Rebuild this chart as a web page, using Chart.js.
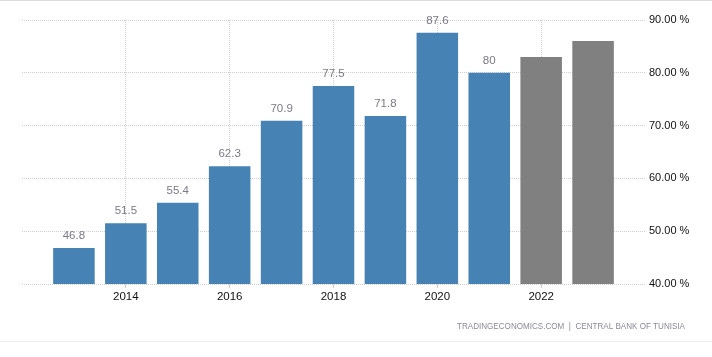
<!DOCTYPE html>
<html>
<head>
<meta charset="utf-8">
<script src="https://cdn.jsdelivr.net/npm/chart.js@4/dist/chart.umd.min.js"></script>
<style>
  html, body { margin: 0; padding: 0; background: #fff; }
  #wrap { width: 712px; height: 357px; position: relative; }
</style>
</head>
<body>
<div id="wrap"><canvas id="c" width="712" height="357"></canvas></div>
<script>
// ---- data ----
const years = [2013, 2014, 2015, 2016, 2017, 2018, 2019, 2020, 2021];
const values = [46.8, 51.5, 55.4, 62.3, 70.9, 77.5, 71.8, 87.6, 80];
const forecastYears = [2022, 2023];
const forecastValues = [83.0, 86.0];
const xTickLabels = ['2014', '2016', '2018', '2020', '2022'];
const yTickValues = [40, 50, 60, 70, 80, 90];
const sourceText = 'TRADINGECONOMICS.COM  |  CENTRAL BANK OF TUNISIA';

const FONT = '"Liberation Sans", Arial, sans-serif';

const labelPlugin = {
  id: 'valueLabels',
  afterDatasetsDraw(chart) {
    const ctx = chart.ctx;
    const meta = chart.getDatasetMeta(0);
    ctx.save();
    ctx.font = '11.5px ' + FONT;
    ctx.fillStyle = '#7a7a88';
    ctx.textAlign = 'center';
    ctx.textBaseline = 'middle';
    meta.data.forEach((el, i) => {
      ctx.fillText(String(values[i]), el.x, el.y - 12);
    });
    ctx.restore();
  }
};

const framePlugin = {
  id: 'frame',
  beforeDraw(chart) {
    const ctx = chart.ctx;
    ctx.save();
    ctx.fillStyle = '#fff';
    ctx.fillRect(0, 0, chart.width, chart.height);
    ctx.fillStyle = '#dcdcdc';
    ctx.fillRect(0, 0, chart.width, 1);
    ctx.fillStyle = '#eeeeee';
    ctx.fillRect(0, 341, chart.width, 1);
    ctx.restore();
  },
  afterDraw(chart) {
    const ctx = chart.ctx;
    ctx.save();
    ctx.font = '9.5px ' + FONT;
    ctx.fillStyle = '#8a8a9a';
    ctx.textAlign = 'right';
    ctx.textBaseline = 'middle';
    ctx.fillText(sourceText, 685, 326, 228);
    ctx.restore();
  }
};

new Chart(document.getElementById('c'), {
  type: 'bar',
  data: {
    datasets: [
      {
        data: years.map((y, i) => ({ x: y, y: values[i] })),
        backgroundColor: '#4682b4',
        grouped: false,
        categoryPercentage: 1,
        barPercentage: 0.8
      },
      {
        data: forecastYears.map((y, i) => ({ x: y, y: forecastValues[i] })),
        backgroundColor: '#808080',
        grouped: false,
        categoryPercentage: 1,
        barPercentage: 0.8
      }
    ]
  },
  options: {
    responsive: false,
    animation: false,
    layout: { padding: { left: 22, top: 20, right: 0, bottom: 43 } },
    plugins: { legend: { display: false }, tooltip: { enabled: false } },
    scales: {
      x: {
        type: 'linear',
        min: 2012,
        max: 2024,
        offset: false,
        afterFit(s) { s.height = 30; },
        afterBuildTicks(s) {
          s.ticks = [2012, 2014, 2016, 2018, 2020, 2022, 2024].map(v => ({ value: v }));
        },
        ticks: {
          autoSkip: false,
          maxRotation: 0,
          padding: 2,
          color: '#111',
          font: { family: FONT, size: 11.5 },
          callback: v => xTickLabels.includes(String(v)) ? String(v) : ''
        },
        grid: {
          offset: false,
          color: c => (c.tick && xTickLabels.includes(String(c.tick.value))) ? '#cfcfcf' : 'rgba(0,0,0,0)',
          tickColor: c => (c.tick && xTickLabels.includes(String(c.tick.value))) ? '#cfcfcf' : 'rgba(0,0,0,0)',
          tickLength: 4,
          lineWidth: 1
        },
        border: { display: false, dash: [1, 1] }
      },
      y: {
        position: 'right',
        min: 40,
        max: 90,
        afterFit(s) { s.width = 67; },
        afterBuildTicks(s) {
          s.ticks = yTickValues.map(v => ({ value: v }));
        },
        ticks: {
          padding: 4,
          color: '#111',
          font: { family: FONT, size: 11 },
          callback: v => v.toFixed(2) + ' %'
        },
        grid: { color: '#cfcfcf', drawTicks: false, lineWidth: 1 },
        border: { display: false, dash: [1, 1] }
      }
    }
  },
  plugins: [labelPlugin, framePlugin]
});
</script>
</body>
</html>
